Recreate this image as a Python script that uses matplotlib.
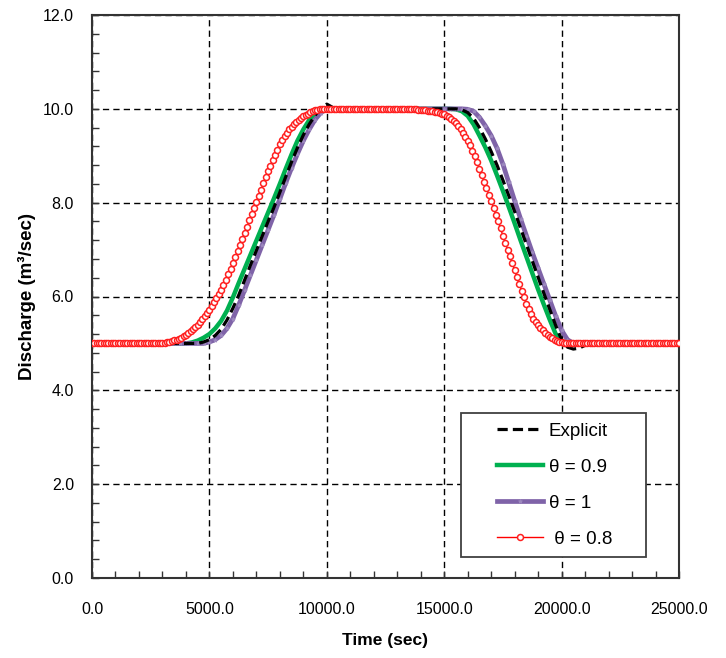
import numpy as np
import matplotlib
matplotlib.use("Agg")
import matplotlib.pyplot as plt
from matplotlib.ticker import MultipleLocator, FormatStrFormatter
from matplotlib.patches import Rectangle

# ---------------- data ----------------
time_250 = np.arange(0, 25001, 250)      # grid for line series (sec)
time_100 = np.arange(0, 25001, 100)      # grid for theta = 0.8 (sec)

explicit = ([5.0] * 19 +
            [5.03, 5.08, 5.17, 5.30, 5.50, 5.75, 6.03, 6.35, 6.67, 6.98,
             7.29, 7.60, 7.90, 8.22, 8.55, 8.87, 9.17, 9.44, 9.67, 9.86,
             10.02, 10.10, 10.03, 10.0] +
            [10.0] * 20 +
            [9.98, 9.92, 9.80, 9.60, 9.36, 9.09, 8.80, 8.48, 8.15, 7.81,
             7.46, 7.11, 6.76, 6.41, 6.06, 5.72, 5.38, 5.08, 4.92, 4.88,
             4.90, 4.96, 5.0] +
            [5.0] * 15)

theta_09 = ([5.0] * 17 +
            [5.02, 5.06, 5.12, 5.20, 5.32, 5.48, 5.70, 5.98, 6.29, 6.59,
             6.89, 7.19, 7.49, 7.79, 8.09, 8.40, 8.72, 9.03, 9.32, 9.56,
             9.76, 9.90, 9.98, 10.0] +
            [10.0] * 21 +
            [9.99, 9.95, 9.85, 9.67, 9.43, 9.18, 8.90, 8.58, 8.25, 7.91,
             7.56, 7.20, 6.85, 6.50, 6.15, 5.82, 5.50, 5.20, 5.04, 5.0] +
            [5.0] * 19)

theta_1 = ([5.0] * 20 +
           [5.03, 5.08, 5.17, 5.32, 5.53, 5.82, 6.14, 6.46, 6.78, 7.10,
            7.42, 7.74, 8.08, 8.42, 8.74, 9.04, 9.32, 9.56, 9.77, 9.92,
            10.0] +
           [10.0] * 23 +
           [9.99, 9.95, 9.82, 9.64, 9.43, 9.16, 8.82, 8.43, 8.04, 7.66,
            7.30, 6.94, 6.60, 6.26, 5.92, 5.58, 5.28, 5.08, 5.0] +
           [5.0] * 18)

theta_08 = ([5.0] * 31 +
            [5.01, 5.02, 5.04, 5.05, 5.07, 5.08, 5.10, 5.12, 5.15, 5.18,
             5.22, 5.26, 5.30, 5.35, 5.40, 5.46, 5.52, 5.58, 5.65, 5.72,
             5.80, 5.88, 5.96, 6.05, 6.14, 6.24, 6.35, 6.47, 6.59, 6.71,
             6.84, 6.97, 7.10, 7.23, 7.36, 7.49, 7.62, 7.75, 7.89, 8.02,
             8.15, 8.28, 8.41, 8.54, 8.67, 8.79, 8.91, 9.02, 9.13, 9.24,
             9.33, 9.42, 9.49, 9.56, 9.62, 9.67, 9.72, 9.76, 9.80, 9.84,
             9.87, 9.90, 9.93, 9.95, 9.97, 9.98, 9.99, 10.0] +
            [10.0] * 38 +
            [9.99, 9.99, 9.98, 9.98, 9.98, 9.97, 9.96, 9.96, 9.95, 9.94,
             9.93, 9.91, 9.90, 9.88, 9.85, 9.82, 9.78, 9.74, 9.69, 9.63,
             9.56, 9.49, 9.41, 9.32, 9.22, 9.11, 8.99, 8.86, 8.72, 8.58,
             8.45, 8.31, 8.17, 8.03, 7.89, 7.74, 7.60, 7.45, 7.30, 7.15,
             7.00, 6.86, 6.71, 6.56, 6.41, 6.26, 6.12, 5.98, 5.85, 5.73,
             5.62, 5.53, 5.45, 5.39, 5.33, 5.28, 5.23, 5.18, 5.14, 5.11,
             5.08, 5.05, 5.03, 5.02, 5.01, 5.0] +
            [5.0] * 48)

labels = ["Explicit", "θ = 0.9", "θ = 1", " θ = 0.8"]
x_ticks = [0, 5000, 10000, 15000, 20000, 25000]
y_ticks = [0, 2, 4, 6, 8, 10, 12]

# ---------------- figure ----------------
plt.rcParams['font.family'] = ['Liberation Sans', 'DejaVu Sans']
fig = plt.figure(figsize=(7.26, 6.58), dpi=100)
ax = fig.add_axes([92 / 726, 1 - 578 / 658, 587 / 726, 563 / 658])

h_g, = ax.plot(time_250, theta_09, color='#00B050', lw=3.2, zorder=3,
               label=labels[1])
h_p, = ax.plot(time_250, theta_1, color='#7F63A8', lw=3.4, zorder=3.5,
               marker='*', markersize=3, mec='#9C88BE', mfc='#9C88BE',
               mew=0.6, label=labels[2])
h_b, = ax.plot(time_250, explicit, color='black', lw=2.3,
               linestyle=(0, (3.2, 1.6)), zorder=4, label=labels[0])
h_r, = ax.plot(time_100, theta_08, color='#FF0000', lw=1.0, marker='o',
               markersize=4.3, mfc='white', mec='#FF2020', mew=1.1,
               zorder=5, label=labels[3])

ax.set_xlim(0, 25000)
ax.set_ylim(0, 12)
ax.set_xticks(x_ticks)
ax.set_yticks(y_ticks)
ax.xaxis.set_minor_locator(MultipleLocator(1000))
ax.yaxis.set_minor_locator(MultipleLocator(0.4))
ax.xaxis.set_major_formatter(FormatStrFormatter('%.1f'))
ax.yaxis.set_major_formatter(FormatStrFormatter('%.1f'))
ax.tick_params(which='both', direction='in', length=5, width=1,
               color='#333333')
ax.tick_params(axis='x', which='major', pad=17, labelsize=11.5)
ax.tick_params(axis='y', which='major', pad=13, labelsize=11.5)

ax.grid(True, which='major', color='black', lw=1.0,
        linestyle=(0, (4.5, 3.0)))
ax.set_axisbelow(True)
for s in ax.spines.values():
    s.set_color('#333333')
    s.set_linewidth(1.5)

ax.set_xlabel('Time (sec)', fontsize=12.5, fontweight='bold', labelpad=12)
ax.set_ylabel('Discharge (m³/sec)', fontsize=13.5, fontweight='bold',
              labelpad=5)

# legend frame drawn separately for exact placement
rect = Rectangle((0.6286, 0.0373), 0.3152, 0.2558, transform=ax.transAxes,
                 facecolor='white', edgecolor='#404040', lw=1.3, zorder=9)
ax.add_patch(rect)
leg = ax.legend(handles=[h_b, h_g, h_p, h_r], labels=labels,
                loc='upper left', bbox_to_anchor=(0.690, 0.2755),
                frameon=False, fontsize=13.5, borderpad=0, borderaxespad=0,
                handlelength=2.45, handletextpad=0.3, labelspacing=1.0,
                numpoints=1)
leg.set_zorder(10)

fig.savefig('out.png', dpi=100)
